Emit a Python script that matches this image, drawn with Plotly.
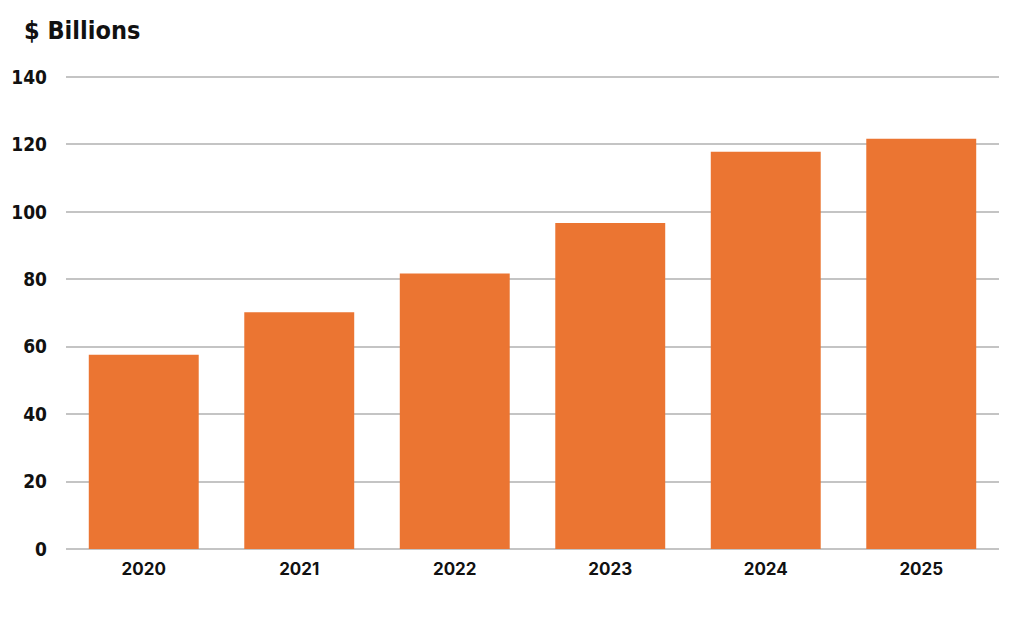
import plotly.graph_objects as go

years = ["2020", "2021", "2022", "2023", "2024", "2025"]
values = [57.6, 70.2, 81.7, 96.7, 117.8, 121.7]
y_ticks = [0, 20, 40, 60, 80, 100, 120, 140]

fig = go.Figure()
fig.add_trace(go.Bar(
    x=years, y=values,
    marker=dict(color="#EB7532", line=dict(width=0)),
    hoverinfo="x+y",
))

# page body has an 8px default margin, so figure coords = screen coords - 8
W, H = 1016, 616
ml, mr, mt, mb = 58, 25, 68, 75
plot_h = H - mt - mb
ymax = 140.3

narrow = "Liberation Sans Narrow, DejaVu Sans Condensed, Arial Narrow, sans-serif"

fig.update_layout(
    width=W, height=H,
    margin=dict(l=ml, r=mr, t=mt, b=mb),
    paper_bgcolor="white", plot_bgcolor="white",
    bargap=0.293,
    showlegend=False,
    xaxis=dict(
        type="category",
        automargin=False,
        showgrid=False, zeroline=False, showline=False,
        tickfont=dict(family="Inter", size=17, color="#111111", weight="bold"),
        ticklabelstandoff=8,
    ),
    yaxis=dict(
        range=[0, ymax],
        automargin=False,
        tickvals=y_ticks,
        ticktext=[str(v) for v in y_ticks],
        showgrid=True, gridcolor="#C4C4C4", gridwidth=1.6,
        zeroline=True, zerolinecolor="#C4C4C4", zerolinewidth=1.6,
        showline=False,
        tickfont=dict(family=narrow, size=19, color="#111111", weight="bold"),
        ticklabelstandoff=18,
    ),
    annotations=[dict(
        text="$ Billions",
        xref="paper", yref="paper",
        x=(14 - ml) / (W - ml - mr), y=(H - mb - 39) / plot_h,
        xanchor="left", yanchor="bottom",
        showarrow=False,
        font=dict(family=narrow, size=25, color="#111111", weight="bold"),
    )],
)

fig.write_html("out.html")
